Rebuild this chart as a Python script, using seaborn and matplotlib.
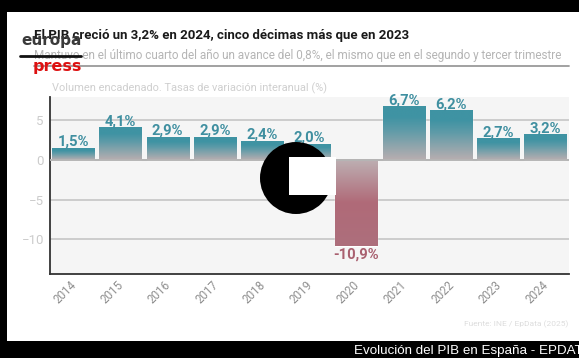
import numpy as np
import pandas as pd
import matplotlib
matplotlib.use("Agg")
import matplotlib.pyplot as plt
from matplotlib.colors import LinearSegmentedColormap
from matplotlib.patches import Rectangle, Ellipse
from matplotlib.transforms import ScaledTranslation
import seaborn as sns

years = ["2014", "2015", "2016", "2017", "2018", "2019", "2020", "2021", "2022", "2023", "2024"]
values = [1.5, 4.1, 2.9, 2.9, 2.4, 2.0, -10.9, 6.7, 6.2, 2.7, 3.2]
labels = ["1,5%", "4,1%", "2,9%", "2,9%", "2,4%", "2,0%", "-10,9%", "6,7%", "6,2%", "2,7%", "3,2%"]
yticks = [5, 0, -5, -10]
ytick_labels = ["5", "0", "−5", "−10"]

TITLE = "El PIB creció un 3,2% en 2024, cinco décimas más que en 2023"
SUBTITLE = "Mantuvo en el último cuarto del año un avance del 0,8%, el mismo que en el segundo y tercer trimestre"
NOTE = "Volumen encadenado. Tasas de variación interanual (%)"
SOURCE = "Fuente: INE / EpData (2025)"
CAPTION = "Evolución del PIB en España - EPDATA"

W, H = 579, 358
sns.set_theme(style="white")
plt.rcParams["font.family"] = ["Roboto", "DejaVu Sans"]

fig = plt.figure(figsize=(W / 100, H / 100), dpi=100, facecolor="black")

def px(x, y):
    return x / W, 1 - y / H

fig.add_artist(Rectangle(px(7, 341), (579 - 7) / W, (341 - 12) / H, transform=fig.transFigure,
                         fc="white", ec="none", zorder=-5))

left, right, top, bottom = 49.5, 569, 97, 274
ax = fig.add_axes([left / W, 1 - bottom / H, (right - left) / W, (bottom - top) / H])
ax.set_facecolor("#f5f5f5")

df = pd.DataFrame({"year": years, "value": values})
sns.barplot(data=df, x="year", y="value", ax=ax, width=0.89, color="#3f93a3", saturation=1, zorder=3)

teal = LinearSegmentedColormap.from_list("t", [(0, "#b8aeb0"), (0.55, "#5f9ba8"), (0.8, "#3f93a3"), (1, "#3f93a3")])
rose = LinearSegmentedColormap.from_list("r", [(0, "#bdb0b3"), (0.5, "#b06a78"), (1, "#ad6f7c")])
grad = np.linspace(1, 0, 128).reshape(-1, 1)
for bar, v in zip(ax.patches, values):
    x0, w = bar.get_x(), bar.get_width()
    y0, y1 = min(0, v), max(0, v)
    img = grad if v >= 0 else grad[::-1]
    ax.imshow(img, cmap=teal if v >= 0 else rose, extent=(x0, x0 + w, y0, y1),
              aspect="auto", zorder=4, vmin=0, vmax=1)
ax.set_xlim(-0.5, 10.5)
ax.set_ylim(-14.4, 7.97)

for yv in yticks:
    ax.axhline(yv, color="#c2c2c2", lw=1.1, zorder=2)
ax.axhline(0, color="#b5b5b5", lw=1.4, zorder=5)

for i, (v, lab) in enumerate(zip(values, labels)):
    col = "#3f8fa0" if v >= 0 else "#a9606f"
    y = v - 0.08 if v >= 0 else v - 0.1
    ax.text(i, y, lab, ha="center", va="bottom" if v >= 0 else "top", color=col,
            fontsize=10.6, fontweight="bold", zorder=6)

for s in ["top", "right"]:
    ax.spines[s].set_visible(False)
for s in ["left", "bottom"]:
    ax.spines[s].set_color("#333333")
    ax.spines[s].set_linewidth(1.3)
ax.set_xlabel("")
ax.set_ylabel("")
ax.set_yticks(yticks, ytick_labels)
ax.tick_params(axis="y", length=0, pad=4, labelsize=9.5, labelcolor="#cccccc")
ax.tick_params(axis="x", length=0, pad=3, labelsize=8.4, labelcolor="#8f8f8f")
shift = ScaledTranslation(-8 / 100, 0, fig.dpi_scale_trans)
for t in ax.get_xticklabels():
    t.set_rotation(45)
    t.set_ha("center")
    t.set_transform(t.get_transform() + shift)

def ftext(x, y, s, **kw):
    fx, fy = px(x, y)
    return fig.text(fx, fy, s, **kw)

ftext(34, 36, TITLE, fontsize=9.52, fontweight="bold", color="#1a1a1a", va="center", ha="left")
ftext(34, 55, SUBTITLE, fontsize=8.5, color="#b5b5b5", va="center", ha="left")
ftext(52, 88, NOTE, fontsize=7.95, color="#cfcfcf", va="center", ha="left")
ftext(568, 324, SOURCE, fontsize=6, color="#dddddd", va="center", ha="right")
ftext(354, 351, CAPTION, fontsize=9.6, color="white", va="center", ha="left", family="Liberation Sans")

fig.add_artist(plt.Line2D([34 / W, 569 / W], [1 - 66 / H] * 2, color="#9a9a9a", lw=1.3))

ftext(21, 41, "europa", fontsize=11, fontweight="bold", color="#3a3a3a", va="center", ha="left", family="DejaVu Sans", zorder=8)
fig.add_artist(plt.Line2D([20 / W, 81 / W], [1 - 56 / H] * 2, color="#111111", lw=2, zorder=8))
ftext(33, 67, "press", fontsize=11.5, fontweight="bold", color="#dd1111", va="center", ha="left", family="DejaVu Sans", zorder=8)

fig.add_artist(Ellipse(px(296, 178), 72 / W, 72 / H, transform=fig.transFigure, fc="black", ec="none", zorder=9))
fig.add_artist(Rectangle(px(289, 195), 47 / W, 38 / H, transform=fig.transFigure, fc="white", ec="none", zorder=10))

fig.savefig("out.png", dpi=100, facecolor="black")
